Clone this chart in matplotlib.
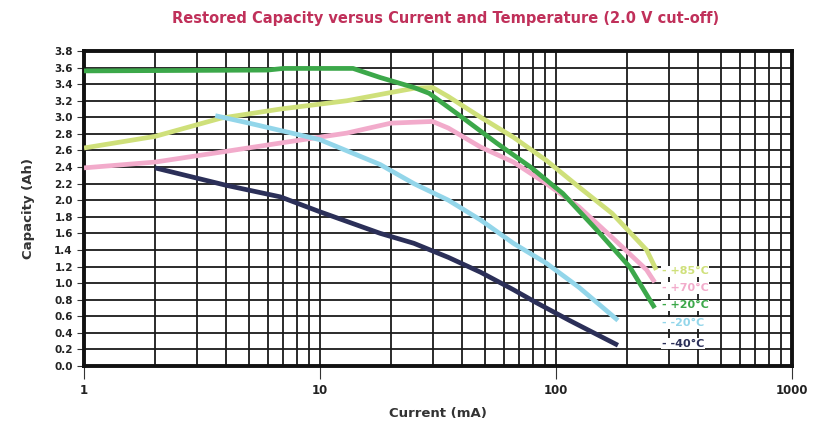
import matplotlib
matplotlib.use("Agg")
import matplotlib.pyplot as plt
from matplotlib.ticker import FixedLocator, NullFormatter, LogLocator

# data (current mA, capacity Ah)
x_85 = [1, 2, 3.8, 6.8, 13, 20, 25, 30, 35, 48, 66, 91, 125, 173, 242, 266]
y_85 = [2.63, 2.77, 2.99, 3.10, 3.20, 3.30, 3.35, 3.36, 3.25, 3.00, 2.76, 2.48, 2.16, 1.84, 1.40, 1.16]

x_70 = [1, 2, 3.8, 6.8, 13, 20, 30, 35, 48, 66, 91, 125, 173, 242, 262]
y_70 = [2.39, 2.46, 2.58, 2.69, 2.81, 2.93, 2.95, 2.87, 2.64, 2.46, 2.20, 1.92, 1.55, 1.16, 1.01]

x_20 = [1, 6, 7, 13.8, 18, 25, 29, 40, 56, 78, 107, 149, 206, 262]
y_20 = [3.56, 3.57, 3.59, 3.59, 3.48, 3.36, 3.29, 3.00, 2.69, 2.40, 2.08, 1.64, 1.19, 0.70]

x_m20 = [3.6, 5, 10, 18, 25, 35, 48, 66, 91, 125, 183]
y_m20 = [3.02, 2.93, 2.73, 2.43, 2.20, 2.00, 1.76, 1.48, 1.24, 0.95, 0.55]

x_m40 = [2, 4, 6.8, 10, 18, 25, 35, 48, 66, 83, 114, 183]
y_m40 = [2.39, 2.18, 2.04, 1.86, 1.60, 1.48, 1.31, 1.13, 0.92, 0.76, 0.55, 0.25]

labels = ["+85°C", "+70°C", "+20°C", "-20°C", "-40°C"]
colors = ["#cfe07a", "#f2abcb", "#3ca84a", "#93d6ea", "#2b2f58"]
label_y = [1.14, 0.94, 0.73, 0.52, 0.27]

fig = plt.figure(figsize=(8.18, 4.23), dpi=100)
ax = fig.add_axes([0.1027, 0.1348, 0.8655, 0.7446])

series = [(x_85, y_85), (x_70, y_70), (x_20, y_20), (x_m20, y_m20), (x_m40, y_m40)]
for (xs, ys), c in zip(series, colors):
    ax.plot(xs, ys, color=c, lw=3.4, solid_capstyle="butt", zorder=3)

ax.set_xscale("log")
ax.set_xlim(1, 1000)
ax.set_ylim(0, 3.8)

ax.yaxis.set_major_locator(FixedLocator([i * 0.2 for i in range(20)]))
ax.set_yticklabels([f"{i * 0.2:.1f}" for i in range(20)])
ax.xaxis.set_major_locator(FixedLocator([1, 10, 100, 1000]))
ax.set_xticklabels(["1", "10", "100", "1000"])
ax.xaxis.set_minor_locator(LogLocator(base=10, subs=range(2, 10)))
ax.xaxis.set_minor_formatter(NullFormatter())

ax.grid(True, which="both", color="#1a1a1a", lw=1.3, zorder=1)
for s in ax.spines.values():
    s.set_linewidth(2.8)
    s.set_color("#111111")

ax.tick_params(axis="y", labelsize=7.5, length=5, width=0.8, colors="#333333", pad=3)
ax.tick_params(axis="x", which="major", labelsize=8.5, length=9, width=0.8, colors="#333333", pad=4)
ax.tick_params(axis="x", which="minor", length=0)
for t in ax.get_yticklabels() + ax.get_xticklabels():
    t.set_fontweight("bold")
    t.set_color("#222222")

for lab, c, yy in zip(labels, colors, label_y):
    ax.text(280, yy, "- " + lab, color=c, fontsize=8, fontweight="bold",
            ha="left", va="center", zorder=4,
            bbox=dict(facecolor="white", edgecolor="none", pad=0.5))

ax.set_xlabel("Current (mA)", fontsize=9.5, fontweight="bold", color="#333333", labelpad=7)
ax.set_ylabel("Capacity (Ah)", fontsize=9.5, fontweight="bold", color="#333333", labelpad=14)

fig.text(0.545, 0.957, "Restored Capacity versus Current and Temperature (2.0 V cut-off)",
         ha="center", va="center", fontsize=10.5, fontweight="bold", color="#c0305a")

fig.savefig("out.png", dpi=100)
